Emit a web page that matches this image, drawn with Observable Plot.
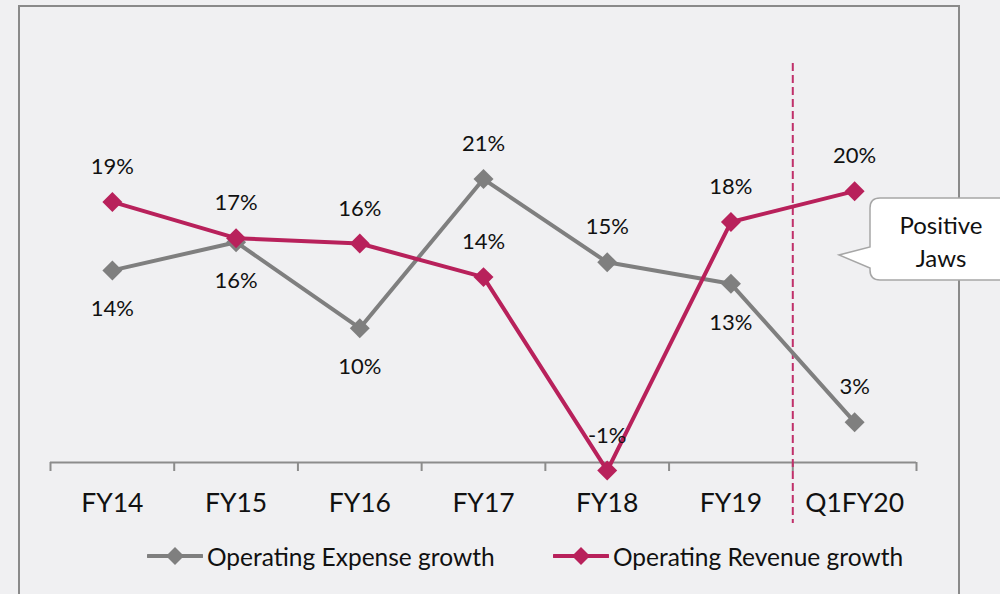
<!DOCTYPE html>
<html>
<head>
<meta charset="utf-8">
<script src="https://cdn.jsdelivr.net/npm/d3@7"></script>
<script src="https://cdn.jsdelivr.net/npm/@observablehq/plot@0.6"></script>
<style>
  html, body { margin: 0; padding: 0; background: #f0f0f2; }
  body { width: 1000px; height: 594px; overflow: hidden; position: relative; font-family: Lato, "Open Sans", sans-serif; }
  #frame { position: absolute; left: 18px; top: 5px; width: 938px; height: 640px; border: 2px solid #8a8a8a; box-sizing: content-box; }
  #chart { position: absolute; left: 0; top: 0; }
  #legend { position: absolute; left: 0; top: 539px; width: 1000px; height: 34px; font-size: 24.5px; color: #111; }
  .item { position: absolute; top: 0; display: flex; align-items: center; height: 34px; }
  .item svg { margin-right: 4px; }
  #callout { position: absolute; left: 0; top: 0; pointer-events: none; }
</style>
</head>
<body>
<div id="frame"></div>
<div id="chart"></div>
<div id="legend"></div>
<svg id="callout" width="1000" height="594"></svg>
<script>
// ---- data ----
const categories = ["FY14", "FY15", "FY16", "FY17", "FY18", "FY19", "Q1FY20"];
const expenseGrowth = [14.3, 16.4, 10.0, 21.1, 14.9, 13.3, 3.0];
const revenueGrowth = [19.4, 16.7, 16.3, 13.8, -0.6, 17.9, 20.2];
const expenseLabelSide = ["below", "below", "below", "above", "above", "below", "above"];
const revenueLabelSide = ["above", "above", "above", "above", "above", "above", "above"];
const seriesNames = ["Operating Expense growth", "Operating Revenue growth"];
const splitBefore = "Q1FY20";
const calloutText = ["Positive", "Jaws"];

const colors = { expense: "#7f7f7f", revenue: "#b8215b" };
const fmt = v => `${Math.round(v)}%`;

const rows = [];
categories.forEach((c, i) => {
  rows.push({ series: "expense", i, cat: c, value: expenseGrowth[i], side: expenseLabelSide[i] });
  rows.push({ series: "revenue", i, cat: c, value: revenueGrowth[i], side: revenueLabelSide[i] });
});
const exp = rows.filter(d => d.series === "expense");
const rev = rows.filter(d => d.series === "revenue");
const idx = categories.map((c, i) => i);
const boundaries = [...categories.map((c, i) => i - 0.5), categories.length - 0.5];
const splitX = categories.indexOf(splitBefore) - 0.5;

const labelFont = { fontSize: 22, fontFamily: "Lato, 'Open Sans', sans-serif", fill: "#111" };

const chart = Plot.plot({
  width: 1000,
  height: 530,
  marginLeft: 50,
  marginRight: 84,
  marginTop: 59,
  marginBottom: 68,
  style: { background: "transparent", overflow: "visible" },
  x: { type: "linear", domain: [-0.5, categories.length - 0.5], axis: null },
  y: { domain: [0, 30], axis: null },
  marks: [
    Plot.ruleY([0], { stroke: "#8c8c8c", strokeWidth: 2 }),
    Plot.axisX(boundaries, { label: null, tickSize: 9, tickFormat: () => "", stroke: "#8c8c8c", strokeWidth: 2 }),
    Plot.axisX(idx, { label: null, tickSize: 0, tickPadding: 31, tickFormat: i => categories[i], fontSize: 26.5, fontFamily: "Lato, 'Open Sans', sans-serif", fill: "#111" }),
    Plot.ruleX([splitX], { stroke: "#c0306a", strokeWidth: 2, strokeDasharray: "8,4", insetTop: 4, insetBottom: -61 }),
    Plot.line(exp, { x: "i", y: "value", stroke: colors.expense, strokeWidth: 4 }),
    Plot.dot(exp, { x: "i", y: "value", symbol: "diamond2", r: 9, fill: colors.expense, stroke: "none" }),
    Plot.line(rev, { x: "i", y: "value", stroke: colors.revenue, strokeWidth: 4 }),
    Plot.dot(rev, { x: "i", y: "value", symbol: "diamond2", r: 9, fill: colors.revenue, stroke: "none" }),
    Plot.text(rows.filter(d => d.side === "above"), { x: "i", y: "value", text: d => fmt(d.value), dy: -35, ...labelFont }),
    Plot.text(rows.filter(d => d.side === "below"), { x: "i", y: "value", text: d => fmt(d.value), dy: 39, ...labelFont })
  ]
});
document.getElementById("chart").appendChild(chart);

// ---- legend ----
const legend = document.getElementById("legend");
const legendItems = [
  { name: seriesNames[0], color: colors.expense, left: 147 },
  { name: seriesNames[1], color: colors.revenue, left: 553 }
];
legendItems.forEach(it => {
  const div = document.createElement("div");
  div.className = "item";
  div.style.left = it.left + "px";
  div.innerHTML = `<svg width="56" height="20"><line x1="1" y1="10" x2="55" y2="10" stroke="${it.color}" stroke-width="4" stroke-linecap="round"/><path d="M28,1 L37,10 L28,19 L19,10 Z" fill="${it.color}"/></svg><span>${it.name}</span>`;
  legend.appendChild(div);
});

// ---- callout ----
const co = d3.select("#callout");
co.append("path")
  .attr("d", "M880,198 H1020 V280 H880 Q870,280 870,270 V268 L839,255 L870,247 V208 Q870,198 880,198 Z")
  .attr("fill", "#ffffff").attr("stroke", "#a6a6a6").attr("stroke-width", 1.5);
co.selectAll("text.c").data(calloutText).join("text")
  .attr("x", 941).attr("y", (d, i) => 234 + i * 33)
  .attr("text-anchor", "middle")
  .attr("font-size", 24).attr("font-family", "Lato, 'Open Sans', sans-serif").attr("fill", "#111")
  .text(d => d);
</script>
</body>
</html>
